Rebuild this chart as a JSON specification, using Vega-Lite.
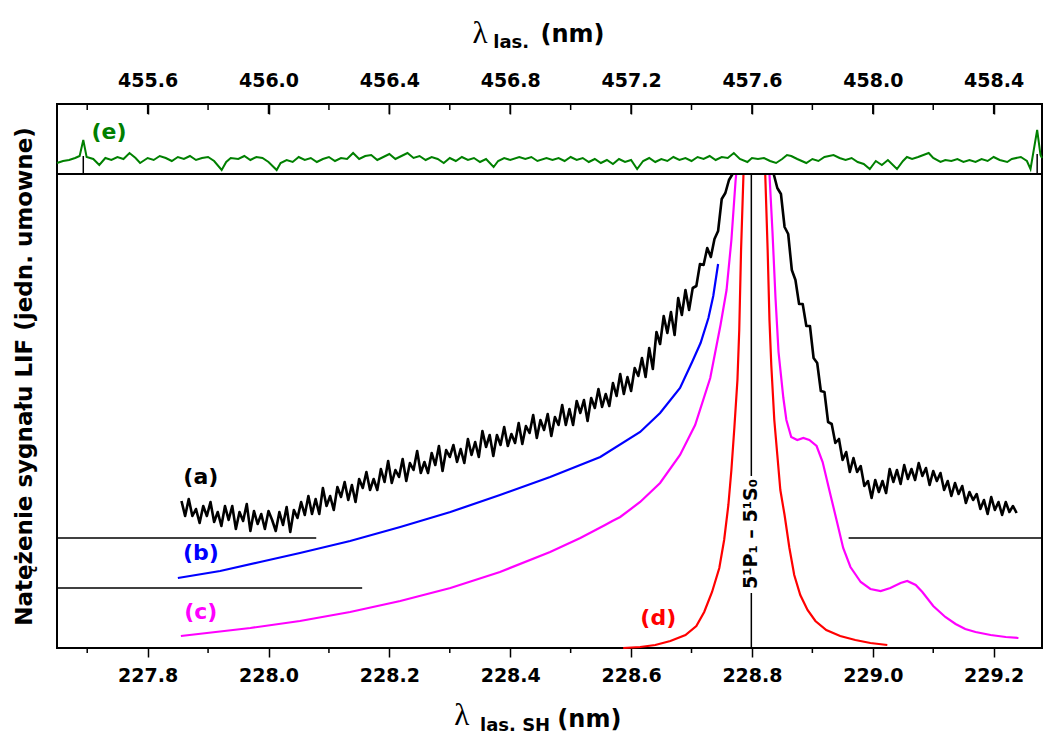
{
  "$schema": "https://vega.github.io/schema/vega-lite/v6.json",
  "width": 985,
  "height": 544,
  "autosize": {"type": "none"},
  "padding": {"left": 57, "top": 104, "right": 2, "bottom": 87},
  "background": "white",
  "config": {
    "view": {"stroke": "black", "strokeWidth": 2},
    "axis": {"grid": false, "domain": false, "tickColor": "black", "labelColor": "black", "titleColor": "black", "tickWidth": 1.5}
  },
  "datasets": {
    "anchor": [{"nm": 228.0, "las": 456.0, "v": 10}],
    "bottomMinor": [{"nm":227.7},{"nm":227.9},{"nm":228.1},{"nm":228.3},{"nm":228.5},{"nm":228.7},{"nm":228.9},{"nm":229.1}],
    "topMajor": [{"las":455.6},{"las":456.0},{"las":456.4},{"las":456.8},{"las":457.2},{"las":457.6},{"las":458.0},{"las":458.4}],
    "topMinor": [{"las":455.4},{"las":455.8},{"las":456.2},{"las":456.6},{"las":457.0},{"las":457.4},{"las":457.8},{"las":458.2}],
    "aL": [
      {"nm":227.856,"v":147},{"nm":227.862,"v":132},{"nm":227.868,"v":149},{"nm":227.874,"v":132},{"nm":227.880,"v":139},{"nm":227.886,"v":125},{"nm":227.892,"v":142},{"nm":227.898,"v":132},{"nm":227.904,"v":146},{"nm":227.910,"v":126},
      {"nm":227.916,"v":136},{"nm":227.922,"v":122},{"nm":227.928,"v":142},{"nm":227.934,"v":128},{"nm":227.940,"v":142},{"nm":227.946,"v":119},{"nm":227.952,"v":136},{"nm":227.958,"v":127},{"nm":227.964,"v":144},{"nm":227.970,"v":117},
      {"nm":227.976,"v":137},{"nm":227.982,"v":124},{"nm":227.988,"v":134},{"nm":227.994,"v":119},{"nm":228.000,"v":137},{"nm":228.006,"v":128},{"nm":228.012,"v":117},{"nm":228.018,"v":136},{"nm":228.024,"v":123},{"nm":228.030,"v":141},
      {"nm":228.036,"v":116},{"nm":228.042,"v":138},{"nm":228.048,"v":130},{"nm":228.054,"v":146},{"nm":228.060,"v":133},{"nm":228.066,"v":152},{"nm":228.072,"v":134},{"nm":228.078,"v":149},{"nm":228.084,"v":134},{"nm":228.090,"v":160},
      {"nm":228.096,"v":142},{"nm":228.102,"v":152},{"nm":228.108,"v":138},{"nm":228.114,"v":161},{"nm":228.120,"v":151},{"nm":228.126,"v":166},{"nm":228.132,"v":148},{"nm":228.138,"v":163},{"nm":228.144,"v":146},{"nm":228.150,"v":169},
      {"nm":228.156,"v":160},{"nm":228.162,"v":176},{"nm":228.168,"v":158},{"nm":228.174,"v":169},{"nm":228.180,"v":158},{"nm":228.186,"v":179},{"nm":228.192,"v":166},{"nm":228.198,"v":187},{"nm":228.204,"v":165},{"nm":228.210,"v":178},
      {"nm":228.216,"v":171},{"nm":228.222,"v":189},{"nm":228.228,"v":167},{"nm":228.234,"v":185},{"nm":228.240,"v":178},{"nm":228.246,"v":197},{"nm":228.252,"v":175},{"nm":228.258,"v":186},{"nm":228.264,"v":175},{"nm":228.270,"v":195},
      {"nm":228.276,"v":183},{"nm":228.282,"v":202},{"nm":228.288,"v":177},{"nm":228.294,"v":198},{"nm":228.300,"v":191},{"nm":228.306,"v":203},{"nm":228.312,"v":186},{"nm":228.318,"v":199},{"nm":228.324,"v":185},{"nm":228.330,"v":209},
      {"nm":228.336,"v":193},{"nm":228.342,"v":206},{"nm":228.348,"v":191},{"nm":228.354,"v":217},{"nm":228.360,"v":201},{"nm":228.366,"v":213},{"nm":228.372,"v":192},{"nm":228.378,"v":213},{"nm":228.384,"v":203},{"nm":228.390,"v":221},
      {"nm":228.396,"v":202},{"nm":228.402,"v":214},{"nm":228.408,"v":205},{"nm":228.414,"v":225},{"nm":228.420,"v":204},{"nm":228.426,"v":222},{"nm":228.432,"v":215},{"nm":228.438,"v":233},{"nm":228.444,"v":210},{"nm":228.450,"v":228},
      {"nm":228.456,"v":218},{"nm":228.462,"v":234},{"nm":228.468,"v":212},{"nm":228.474,"v":231},{"nm":228.480,"v":223},{"nm":228.486,"v":243},{"nm":228.492,"v":223},{"nm":228.498,"v":239},{"nm":228.504,"v":223},{"nm":228.510,"v":247},
      {"nm":228.516,"v":235},{"nm":228.522,"v":248},{"nm":228.528,"v":227},{"nm":228.534,"v":250},{"nm":228.540,"v":240},{"nm":228.546,"v":259},{"nm":228.552,"v":241},{"nm":228.558,"v":254},{"nm":228.564,"v":242},{"nm":228.570,"v":265},
      {"nm":228.576,"v":252},{"nm":228.582,"v":274},{"nm":228.588,"v":254},{"nm":228.594,"v":271},{"nm":228.600,"v":257},{"nm":228.606,"v":280},{"nm":228.612,"v":272},{"nm":228.618,"v":290},{"nm":228.624,"v":271},{"nm":228.630,"v":300},
      {"nm":228.636,"v":279},{"nm":228.642,"v":316},{"nm":228.648,"v":304},{"nm":228.654,"v":332},{"nm":228.660,"v":315},{"nm":228.666,"v":336},{"nm":228.672,"v":313},{"nm":228.678,"v":350},{"nm":228.684,"v":333},{"nm":228.690,"v":358},
      {"nm":228.696,"v":338},{"nm":228.702,"v":360},{"nm":228.708,"v":362},{"nm":228.714,"v":384},{"nm":228.720,"v":383},{"nm":228.726,"v":400},{"nm":228.732,"v":391},{"nm":228.738,"v":409},{"nm":228.744,"v":417},{"nm":228.750,"v":449},
      {"nm":228.756,"v":455},{"nm":228.762,"v":468},{"nm":228.768,"v":474}
    ],
    "aR": [
      {"nm":228.836,"v":474},{"nm":228.842,"v":460},{"nm":228.848,"v":454},{"nm":228.854,"v":421},{"nm":228.860,"v":414},{"nm":228.866,"v":378},{"nm":228.872,"v":368},{"nm":228.878,"v":344},{"nm":228.884,"v":344},{"nm":228.890,"v":322},
      {"nm":228.896,"v":322},{"nm":228.902,"v":290},{"nm":228.908,"v":285},{"nm":228.914,"v":257},{"nm":228.920,"v":256},{"nm":228.926,"v":226},{"nm":228.932,"v":224},{"nm":228.938,"v":205},{"nm":228.944,"v":209},{"nm":228.950,"v":188},
      {"nm":228.956,"v":196},{"nm":228.962,"v":176},{"nm":228.968,"v":190},{"nm":228.974,"v":176},{"nm":228.980,"v":182},{"nm":228.986,"v":162},{"nm":228.992,"v":167},{"nm":228.998,"v":150},{"nm":229.004,"v":168},{"nm":229.010,"v":156},
      {"nm":229.016,"v":167},{"nm":229.022,"v":155},{"nm":229.028,"v":179},{"nm":229.034,"v":166},{"nm":229.040,"v":178},{"nm":229.046,"v":164},{"nm":229.052,"v":183},{"nm":229.058,"v":169},{"nm":229.064,"v":179},{"nm":229.070,"v":168},
      {"nm":229.076,"v":185},{"nm":229.082,"v":172},{"nm":229.088,"v":180},{"nm":229.094,"v":163},{"nm":229.100,"v":177},{"nm":229.106,"v":167},{"nm":229.112,"v":175},{"nm":229.118,"v":158},{"nm":229.124,"v":167},{"nm":229.130,"v":152},
      {"nm":229.136,"v":165},{"nm":229.142,"v":154},{"nm":229.148,"v":162},{"nm":229.154,"v":145},{"nm":229.160,"v":156},{"nm":229.166,"v":148},{"nm":229.172,"v":154},{"nm":229.178,"v":139},{"nm":229.184,"v":148},{"nm":229.190,"v":134},
      {"nm":229.196,"v":151},{"nm":229.202,"v":138},{"nm":229.208,"v":146},{"nm":229.214,"v":133},{"nm":229.220,"v":146},{"nm":229.226,"v":136},{"nm":229.232,"v":142},{"nm":229.238,"v":135}
    ],
    "bLine": [
      {"nm":227.850,"v":70},{"nm":227.920,"v":77},{"nm":227.986,"v":86},{"nm":228.052,"v":95},{"nm":228.135,"v":107},{"nm":228.218,"v":121},{"nm":228.301,"v":136},{"nm":228.383,"v":153},{"nm":228.466,"v":171},{"nm":228.549,"v":191},
      {"nm":228.615,"v":216},{"nm":228.648,"v":235},{"nm":228.681,"v":260},{"nm":228.701,"v":286},{"nm":228.715,"v":305},{"nm":228.728,"v":330},{"nm":228.736,"v":352},{"nm":228.744,"v":384}
    ],
    "cL": [
      {"nm":227.855,"v":12},{"nm":227.970,"v":20},{"nm":228.052,"v":27},{"nm":228.135,"v":36},{"nm":228.218,"v":47},{"nm":228.301,"v":60},{"nm":228.383,"v":76},{"nm":228.466,"v":96},{"nm":228.516,"v":110},{"nm":228.557,"v":123},
      {"nm":228.569,"v":127},{"nm":228.582,"v":131},{"nm":228.615,"v":146},{"nm":228.648,"v":165},{"nm":228.681,"v":193},{"nm":228.706,"v":223},{"nm":228.731,"v":270},{"nm":228.748,"v":323},{"nm":228.758,"v":358},{"nm":228.766,"v":408},
      {"nm":228.773,"v":468},{"nm":228.774,"v":474}
    ],
    "cR": [
      {"nm":228.829,"v":474},{"nm":228.834,"v":416},{"nm":228.839,"v":350},{"nm":228.844,"v":296},{"nm":228.852,"v":250},{"nm":228.857,"v":228},{"nm":228.865,"v":211},{"nm":228.875,"v":208},{"nm":228.885,"v":210},{"nm":228.895,"v":208},
      {"nm":228.907,"v":202},{"nm":228.917,"v":186},{"nm":228.930,"v":153},{"nm":228.940,"v":128},{"nm":228.951,"v":100},{"nm":228.963,"v":81},{"nm":228.980,"v":66},{"nm":228.996,"v":59},{"nm":229.013,"v":57},{"nm":229.029,"v":60},
      {"nm":229.046,"v":65},{"nm":229.057,"v":67},{"nm":229.071,"v":63},{"nm":229.082,"v":56},{"nm":229.100,"v":42},{"nm":229.120,"v":31},{"nm":229.137,"v":24},{"nm":229.153,"v":19},{"nm":229.170,"v":16},{"nm":229.195,"v":13},
      {"nm":229.220,"v":11},{"nm":229.241,"v":10}
    ],
    "dL": [
      {"nm":228.587,"v":0},{"nm":228.615,"v":1},{"nm":228.640,"v":3},{"nm":228.665,"v":7},{"nm":228.690,"v":13},{"nm":228.708,"v":22},{"nm":228.721,"v":36},{"nm":228.734,"v":56},{"nm":228.746,"v":80},{"nm":228.754,"v":108},
      {"nm":228.761,"v":143},{"nm":228.766,"v":178},{"nm":228.771,"v":221},{"nm":228.776,"v":268},{"nm":228.779,"v":318},{"nm":228.782,"v":398},{"nm":228.786,"v":474}
    ],
    "dR": [
      {"nm":228.822,"v":474},{"nm":228.826,"v":398},{"nm":228.829,"v":328},{"nm":228.832,"v":283},{"nm":228.837,"v":228},{"nm":228.842,"v":193},{"nm":228.847,"v":158},{"nm":228.854,"v":133},{"nm":228.862,"v":100},{"nm":228.870,"v":73},
      {"nm":228.880,"v":53},{"nm":228.892,"v":38},{"nm":228.905,"v":27},{"nm":228.923,"v":18},{"nm":228.946,"v":12},{"nm":228.971,"v":8},{"nm":228.996,"v":5},{"nm":229.024,"v":3}
    ],
    "hRules": [
      {"nm":227.65,"nm2":228.079,"v":110},{"nm":227.65,"nm2":228.155,"v":60},{"nm":228.96,"nm2":229.28,"v":110}
    ],
    "vRules": [
      {"nm":228.799,"v":0,"v2":55},{"nm":228.799,"v":172,"v2":474}
    ],
    "separator": [{"nm":227.65,"nm2":229.28,"v":474}],
    "curveLabels": [
      {"nm":227.888,"v":171,"t":"(a)","s":"a"},{"nm":227.888,"v":95,"t":"(b)","s":"b"},{"nm":227.888,"v":36,"t":"(c)","s":"c"},{"nm":228.645,"v":30,"t":"(d)","s":"d"}
    ],
    "lambda": [{"nm":228.320,"v":-77,"t":"λ"},{"nm":228.350,"v":605,"t":"λ"}],
    "subs": [{"nm":228.350,"v":-83,"t":"las. SH"},{"nm":228.372,"v":600,"t":"las."}],
    "units": [{"nm":228.478,"v":-79,"t":"(nm)"},{"nm":228.450,"v":606,"t":"(nm)"}],
    "transition": [{"nm":228.799,"v":114,"t":"5¹P₁ – 5¹S₀"}],
    "eLabel": [{"las":455.472,"v":516,"t":"(e)","s":"e"}],
    "spikes": [{"las":455.387,"v":474,"v2":492},{"las":458.544,"v":474,"v2":494}],
    "green": [
      {"las":455.30,"v":485},{"las":455.32,"v":487},{"las":455.34,"v":488},{"las":455.36,"v":490},{"las":455.375,"v":492},{"las":455.387,"v":508},{"las":455.398,"v":491},{"las":455.42,"v":489},{"las":455.44,"v":483},{"las":455.46,"v":490},
      {"las":455.48,"v":488},{"las":455.50,"v":491},{"las":455.52,"v":489},{"las":455.54,"v":495},{"las":455.56,"v":490},{"las":455.575,"v":485},{"las":455.60,"v":490},{"las":455.62,"v":488},{"las":455.64,"v":492},{"las":455.66,"v":490},
      {"las":455.68,"v":487},{"las":455.70,"v":491},{"las":455.72,"v":489},{"las":455.74,"v":492},{"las":455.76,"v":488},{"las":455.78,"v":490},{"las":455.80,"v":491},{"las":455.82,"v":487},{"las":455.845,"v":478},{"las":455.86,"v":486},
      {"las":455.875,"v":490},{"las":455.90,"v":489},{"las":455.92,"v":492},{"las":455.94,"v":488},{"las":455.96,"v":491},{"las":455.98,"v":490},{"las":456.00,"v":486},{"las":456.027,"v":478},{"las":456.04,"v":485},{"las":456.06,"v":488},
      {"las":456.08,"v":486},{"las":456.10,"v":491},{"las":456.12,"v":488},{"las":456.14,"v":490},{"las":456.16,"v":486},{"las":456.18,"v":489},{"las":456.20,"v":491},{"las":456.22,"v":487},{"las":456.24,"v":490},{"las":456.26,"v":489},
      {"las":456.28,"v":495},{"las":456.30,"v":489},{"las":456.32,"v":492},{"las":456.34,"v":493},{"las":456.36,"v":488},{"las":456.38,"v":491},{"las":456.40,"v":494},{"las":456.42,"v":489},{"las":456.44,"v":492},{"las":456.46,"v":495},
      {"las":456.48,"v":490},{"las":456.50,"v":492},{"las":456.52,"v":488},{"las":456.54,"v":491},{"las":456.56,"v":489},{"las":456.58,"v":485},{"las":456.60,"v":490},{"las":456.62,"v":487},{"las":456.64,"v":491},{"las":456.66,"v":488},
      {"las":456.68,"v":490},{"las":456.70,"v":486},{"las":456.72,"v":489},{"las":456.745,"v":481},{"las":456.76,"v":487},{"las":456.78,"v":490},{"las":456.80,"v":488},{"las":456.83,"v":491},{"las":456.85,"v":489},{"las":456.87,"v":491},
      {"las":456.89,"v":487},{"las":456.92,"v":490},{"las":456.94,"v":488},{"las":456.96,"v":490},{"las":456.98,"v":487},{"las":457.00,"v":491},{"las":457.02,"v":488},{"las":457.04,"v":490},{"las":457.06,"v":486},{"las":457.08,"v":489},
      {"las":457.10,"v":485},{"las":457.12,"v":488},{"las":457.14,"v":484},{"las":457.16,"v":489},{"las":457.18,"v":486},{"las":457.20,"v":488},{"las":457.22,"v":479},{"las":457.24,"v":487},{"las":457.26,"v":490},{"las":457.28,"v":486},
      {"las":457.30,"v":489},{"las":457.32,"v":487},{"las":457.34,"v":491},{"las":457.36,"v":488},{"las":457.38,"v":490},{"las":457.40,"v":487},{"las":457.42,"v":491},{"las":457.44,"v":489},{"las":457.46,"v":492},{"las":457.48,"v":488},
      {"las":457.50,"v":491},{"las":457.52,"v":490},{"las":457.54,"v":495},{"las":457.56,"v":489},{"las":457.585,"v":486},{"las":457.60,"v":490},{"las":457.62,"v":489},{"las":457.64,"v":490},{"las":457.66,"v":487},{"las":457.68,"v":485},
      {"las":457.70,"v":489},{"las":457.716,"v":493},{"las":457.73,"v":492},{"las":457.75,"v":489},{"las":457.78,"v":485},{"las":457.80,"v":489},{"las":457.82,"v":487},{"las":457.84,"v":491},{"las":457.87,"v":493},{"las":457.89,"v":490},
      {"las":457.91,"v":488},{"las":457.93,"v":490},{"las":457.95,"v":486},{"las":457.97,"v":484},{"las":457.99,"v":479},{"las":458.01,"v":487},{"las":458.03,"v":483},{"las":458.05,"v":488},{"las":458.08,"v":479},{"las":458.10,"v":487},
      {"las":458.113,"v":491},{"las":458.13,"v":489},{"las":458.15,"v":491},{"las":458.185,"v":495},{"las":458.20,"v":490},{"las":458.224,"v":486},{"las":458.24,"v":488},{"las":458.26,"v":487},{"las":458.28,"v":489},{"las":458.30,"v":486},
      {"las":458.32,"v":488},{"las":458.34,"v":486},{"las":458.36,"v":489},{"las":458.38,"v":487},{"las":458.40,"v":491},{"las":458.42,"v":488},{"las":458.445,"v":486},{"las":458.46,"v":489},{"las":458.49,"v":491},{"las":458.51,"v":487},
      {"las":458.522,"v":479},{"las":458.544,"v":518},{"las":458.555,"v":493},{"las":458.56,"v":490}
    ]
  },
  "layer": [
    {
      "encoding": {"x": {"field": "nm", "type": "quantitative", "scale": {"domain": [227.65, 229.28], "nice": false, "zero": false}, "axis": null}},
      "layer": [
        {
          "encoding": {"y": {"field": "v", "type": "quantitative", "scale": {"domain": [0, 544], "nice": false, "zero": false},
            "axis": {"orient": "left", "title": "Natężenie sygnału LIF (jedn. umowne)", "labels": false, "ticks": false, "domain": false, "grid": false,
                     "titleFont": "DejaVu Sans", "titleFontWeight": "bold", "titleFontSize": 23, "titlePadding": 21, "titleColor": "black"}}},
          "layer": [
            {"data": {"name": "cL"}, "mark": {"type": "line", "color": "#FF00FF", "strokeWidth": 2.2}},
            {"data": {"name": "cR"}, "mark": {"type": "line", "color": "#FF00FF", "strokeWidth": 2.2}},
            {"data": {"name": "dL"}, "mark": {"type": "line", "color": "#FF0000", "strokeWidth": 2.2}},
            {"data": {"name": "dR"}, "mark": {"type": "line", "color": "#FF0000", "strokeWidth": 2.2}},
            {"data": {"name": "bLine"}, "mark": {"type": "line", "color": "#0000FF", "strokeWidth": 2.2}},
            {"data": {"name": "aL"}, "mark": {"type": "line", "color": "#000000", "strokeWidth": 2.6, "strokeJoin": "round"}},
            {"data": {"name": "aR"}, "mark": {"type": "line", "color": "#000000", "strokeWidth": 2.6, "strokeJoin": "round"}},
            {"data": {"name": "hRules"}, "mark": {"type": "rule", "color": "black", "strokeWidth": 1.5}, "encoding": {"x2": {"field": "nm2"}}},
            {"data": {"name": "vRules"}, "mark": {"type": "rule", "color": "black", "strokeWidth": 1.5}, "encoding": {"y2": {"field": "v2"}}},
            {"data": {"name": "separator"}, "mark": {"type": "rule", "color": "black", "strokeWidth": 2}, "encoding": {"x2": {"field": "nm2"}}},
            {"data": {"name": "transition"}, "mark": {"type": "text", "angle": 270, "font": "DejaVu Sans", "fontWeight": "bold", "fontSize": 19, "align": "center", "baseline": "middle", "color": "black"}, "encoding": {"text": {"field": "t"}}},
            {"data": {"name": "curveLabels"}, "mark": {"type": "text", "font": "DejaVu Sans", "fontWeight": "bold", "fontSize": 22, "align": "center", "baseline": "middle"},
             "encoding": {"text": {"field": "t"}, "color": {"field": "s", "type": "nominal", "scale": {"domain": ["a", "b", "c", "d", "e"], "range": ["#000000", "#0000FF", "#FF00FF", "#FF0000", "#008000"]}, "legend": null}}},
            {"data": {"name": "lambda"}, "mark": {"type": "text", "font": "Liberation Serif", "fontSize": 31, "align": "center", "baseline": "alphabetic", "color": "black"}, "encoding": {"text": {"field": "t"}}},
            {"data": {"name": "subs"}, "mark": {"type": "text", "font": "DejaVu Sans", "fontWeight": "bold", "fontSize": 18, "align": "left", "baseline": "alphabetic", "color": "black"}, "encoding": {"text": {"field": "t"}}},
            {"data": {"name": "units"}, "mark": {"type": "text", "font": "DejaVu Sans", "fontWeight": "bold", "fontSize": 24, "align": "left", "baseline": "alphabetic", "color": "black"}, "encoding": {"text": {"field": "t"}}},
            {"data": {"name": "anchor"}, "mark": {"type": "point", "opacity": 0},
             "encoding": {"x": {"field": "nm", "type": "quantitative", "scale": {"domain": [227.65, 229.28], "nice": false, "zero": false},
               "axis": {"orient": "bottom", "values": [227.8, 228.0, 228.2, 228.4, 228.6, 228.8, 229.0, 229.2], "format": ".1f", "tickSize": 9, "tickWidth": 1.5, "tickColor": "black",
                        "labelFont": "DejaVu Sans", "labelFontWeight": "bold", "labelFontSize": 19, "labelColor": "black", "labelPadding": 9, "labelFlush": false, "labelOverlap": false,
                        "domain": false, "grid": false, "title": null}}}}
          ],
          "resolve": {"axis": {"x": "independent"}}
        },
        {"data": {"name": "bottomMinor"}, "mark": {"type": "rule", "color": "black", "strokeWidth": 1.5},
         "encoding": {"y": {"datum": 0, "type": "quantitative", "scale": {"domain": [0, 544], "nice": false, "zero": false},
            "axis": {"orient": "left", "title": "Natężenie sygnału LIF (jedn. umowne)", "labels": false, "ticks": false, "domain": false, "grid": false,
                     "titleFont": "DejaVu Sans", "titleFontWeight": "bold", "titleFontSize": 23, "titlePadding": 21, "titleColor": "black"}},
           "y2": {"datum": -5}}}
      ],
      "resolve": {"axis": {"x": "independent"}}
    },
    {
      "encoding": {"x": {"field": "las", "type": "quantitative", "scale": {"domain": [455.3, 458.56], "nice": false, "zero": false}, "axis": null}},
      "layer": [
        {
          "encoding": {"y": {"field": "v", "type": "quantitative", "scale": {"domain": [0, 544], "nice": false, "zero": false},
            "axis": {"orient": "left", "title": "Natężenie sygnału LIF (jedn. umowne)", "labels": false, "ticks": false, "domain": false, "grid": false,
                     "titleFont": "DejaVu Sans", "titleFontWeight": "bold", "titleFontSize": 23, "titlePadding": 21, "titleColor": "black"}}},
          "layer": [
            {"data": {"name": "green"}, "mark": {"type": "line", "color": "#008000", "strokeWidth": 2}},
            {"data": {"name": "spikes"}, "mark": {"type": "rule", "color": "black", "strokeWidth": 1.5}, "encoding": {"y2": {"field": "v2"}}},
            {"data": {"name": "eLabel"}, "mark": {"type": "text", "font": "DejaVu Sans", "fontWeight": "bold", "fontSize": 22, "align": "center", "baseline": "middle"},
             "encoding": {"text": {"field": "t"}, "color": {"field": "s", "type": "nominal", "scale": {"domain": ["a", "b", "c", "d", "e"], "range": ["#000000", "#0000FF", "#FF00FF", "#FF0000", "#008000"]}, "legend": null}}},
            {"data": {"name": "anchor"}, "mark": {"type": "point", "opacity": 0},
             "encoding": {"x": {"field": "las", "type": "quantitative", "scale": {"domain": [455.3, 458.56], "nice": false, "zero": false},
               "axis": {"orient": "top", "values": [455.6, 456.0, 456.4, 456.8, 457.2, 457.6, 458.0, 458.4], "format": ".1f", "ticks": true, "tickSize": -10, "tickWidth": 1.5, "tickColor": "black",
                        "labelFont": "DejaVu Sans", "labelFontWeight": "bold", "labelFontSize": 19, "labelColor": "black", "labelPadding": 24, "labelFlush": false, "labelOverlap": false,
                        "domain": false, "grid": false, "title": null}}}}
          ],
          "resolve": {"axis": {"x": "independent"}}
        },
        {"data": {"name": "topMajor"}, "mark": {"type": "rule", "color": "black", "strokeWidth": 1.5},
         "encoding": {"y": {"datum": 544, "type": "quantitative", "scale": {"domain": [0, 544], "nice": false, "zero": false},
            "axis": {"orient": "left", "title": "Natężenie sygnału LIF (jedn. umowne)", "labels": false, "ticks": false, "domain": false, "grid": false,
                     "titleFont": "DejaVu Sans", "titleFontWeight": "bold", "titleFontSize": 23, "titlePadding": 21, "titleColor": "black"}},
           "y2": {"datum": 534}}},
        {"data": {"name": "topMinor"}, "mark": {"type": "rule", "color": "black", "strokeWidth": 1.5},
         "encoding": {"y": {"datum": 544, "type": "quantitative", "scale": {"domain": [0, 544], "nice": false, "zero": false},
            "axis": {"orient": "left", "title": "Natężenie sygnału LIF (jedn. umowne)", "labels": false, "ticks": false, "domain": false, "grid": false,
                     "titleFont": "DejaVu Sans", "titleFontWeight": "bold", "titleFontSize": 23, "titlePadding": 21, "titleColor": "black"}},
           "y2": {"datum": 538}}}
      ],
      "resolve": {"axis": {"x": "independent"}}
    }
  ],
  "resolve": {"scale": {"x": "independent"}}
}
